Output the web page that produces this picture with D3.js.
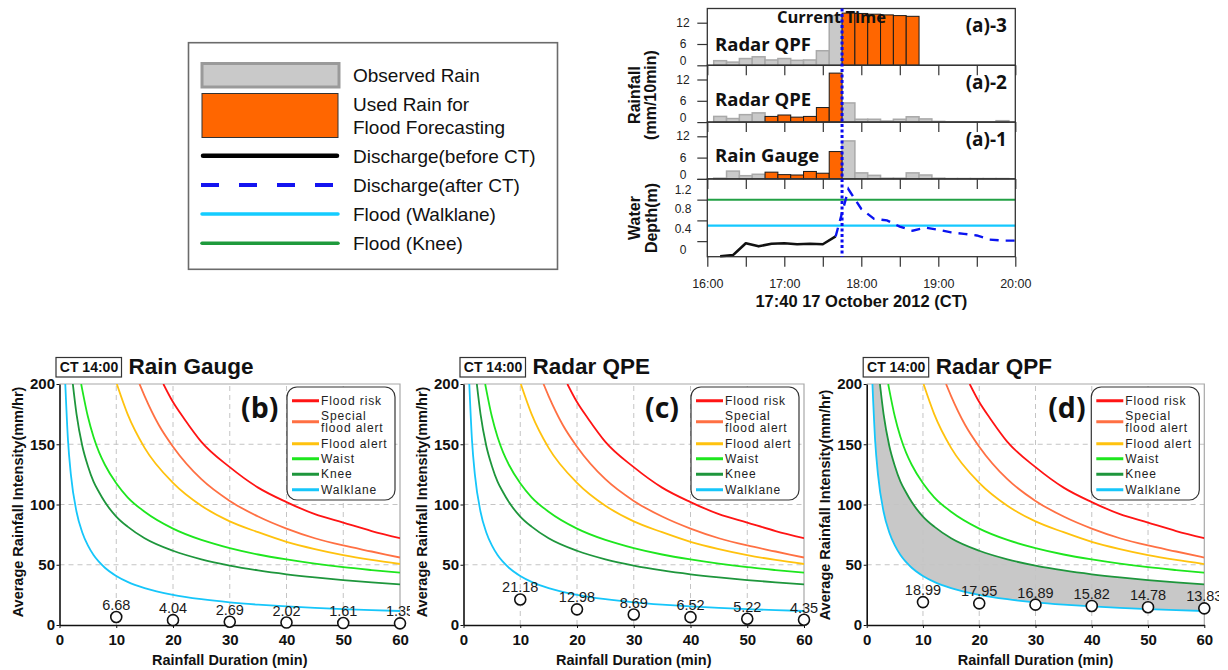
<!DOCTYPE html>
<html>
<head>
<meta charset="utf-8">
<script src="https://cdn.jsdelivr.net/npm/d3@7/dist/d3.min.js"></script>
<style>
html,body{margin:0;padding:0;background:#fff;}
svg{display:block;}
</style>
</head>
<body>
<svg id="chart" width="1228" height="670"></svg>
<script>
// ================= DATA =================
// --- (a) hyetographs, 10-min bins (bin centre times) ---
const barTimes = ["16:10","16:20","16:30","16:40","16:50","17:00","17:10","17:20","17:30","17:40","17:50","18:00","18:10","18:20","18:30","18:40","18:50","19:00","19:10","19:20","19:30","19:40","19:50"];
const qpfObserved = [1.3,0.9,1.9,2.4,1.5,1.9,1.4,1.5,4.1,14.0,null,null,null,null,null,null,null,null,null,null,null,null,null];
const qpfUsed     = [null,null,null,null,null,null,null,null,null,null,14.7,14.6,14.4,14.2,14.0,13.8,null,null,null,null,null,null,null];
const qpeObserved = [1.6,1.0,2.1,2.6,1.6,2.0,1.4,1.6,4.1,13.8,5.4,0.8,0.8,0.3,0.8,1.5,0.9,0.2,0.1,0.1,0.1,0.1,0.4];
const qpeUsed     = [null,null,null,null,1.6,2.0,1.4,1.6,4.1,13.8,null,null,null,null,null,null,null,null,null,null,null,null,null];
const gaugeObserved = [0.2,2.2,0.9,1.3,1.9,1.2,1.1,2.1,1.6,7.7,10.7,1.7,1.0,0.2,0.2,1.7,1.1,0.2,0.1,0.1,0.1,0.1,0.1];
const gaugeUsed     = [null,null,null,null,1.9,1.2,1.1,2.1,1.6,7.7,null,null,null,null,null,null,null,null,null,null,null,null,null];
const rainTicks = [0,6,12];

// --- water depth ---
const depthBeforeTimes = ["16:10","16:20","16:30","16:40","16:50","17:00","17:10","17:20","17:30","17:40"];
const depthBefore = [-0.29,-0.27,-0.04,-0.10,-0.05,-0.04,-0.06,-0.05,-0.06,0.09];
const depthAfterTimes = ["17:40","17:50","18:00","18:10","18:20","18:30","18:40","18:50","19:00","19:10","19:20","19:30","19:40","19:50","20:00"];
const depthAfter = [0.09,1.0,0.62,0.43,0.40,0.28,0.20,0.26,0.22,0.17,0.14,0.11,0.03,0.01,0.01];
const depthTicks = [0,0.4,0.8,1.2];
const floodKneeDepth = 0.8;
const floodWalklaneDepth = 0.3;
const currentTime = "17:40";
const binMinutes = 10;
const timeLabels = ["16:00","17:00","18:00","19:00","20:00"];

// --- top-left legend ---
const legendLabels = ["Observed Rain","Used Rain for|Flood Forecasting","Discharge(before CT)","Discharge(after CT)","Flood (Walklane)","Flood (Knee)"];

// --- (b)(c)(d) rainfall intensity-duration ---
const durations = [10,20,30,40,50,60];
const gaugeIntensity = [6.68,4.04,2.69,2.02,1.61,1.35];
const qpeIntensity = [21.18,12.98,8.69,6.52,5.22,4.35];
const qpfIntensity = [18.99,17.95,16.89,15.82,14.78,13.83];
const durationTicks = [0,10,20,30,40,50,60];
const intensityTicks = [0,50,100,150,200];

const floodRiskCurve = [[18.3,200],[20,185],[22,171],[25,152],[30,131],[35,114],[40,102],[45,92],[50,85],[55,78],[60,72]];
const specialFloodAlertCurve = [[14.1,200],[15,190],[17.5,166],[20,148],[25,121],[30,103],[35,90],[40,80],[45,72],[50,66],[55,61],[60,56]];
const floodAlertCurve = [[10.1,200],[12,175],[15,147],[20,118],[25,99],[30,86],[35,77],[40,69],[45,63],[50,58],[55,54],[60,50.6]];
const waistCurve = [[3.82,200],[4,195.6],[5,173],[6,156],[7,143],[8,133],[10,117.6],[12,106],[15,94],[20,80],[25,70.6],[30,63.8],[35,58.5],[40,54.4],[45,50.9],[50,48],[55,45.6],[60,43.4]];
const kneeCurve = [[2.35,200],[3,175],[4,149],[5,132],[6,119],[7,110],[8,102],[10,90],[12,81.6],[15,72],[20,61.6],[25,54.5],[30,49.3],[35,45.3],[40,42.1],[45,39.5],[50,37.3],[55,35.4],[60,33.7]];
const walklaneCurve = [[1.02,200],[1.5,153],[2,125],[3,94],[4,77],[5,66],[6,58],[8,47.5],[10,40.7],[12,35.8],[15,30.6],[20,25],[25,21.4],[30,18.8],[35,16.9],[40,15.4],[45,14.2],[50,13.2],[55,12.3],[60,11.6]];
const thresholdLabels = ["Flood risk","Special|flood alert","Flood alert","Waist","Knee","Walklane"];

// ================= DRAWING =================
const svg = d3.select("#chart");
const ARIAL = "'Liberation Sans', Arial, sans-serif";
const OPEN = "'Open Sans', 'Liberation Sans', sans-serif";
const parseT = d3.timeParse("%H:%M");

// ---------- top-left legend ----------
(function(){
  const g = svg.append("g");
  g.append("rect").attr("x",188.5).attr("y",42.7).attr("width",369).attr("height",226.6)
    .attr("fill","#fff").attr("stroke","#6b6b6b").attr("stroke-width",1.6);
  g.append("rect").attr("x",202).attr("y",63.5).attr("width",137).attr("height",23.5)
    .attr("fill","#c9c9c9").attr("stroke","#9a9a9a").attr("stroke-width",3);
  g.append("rect").attr("x",202).attr("y",93.5).attr("width",136).attr("height",44)
    .attr("fill","#ff6600").attr("stroke","#333").attr("stroke-width",1);
  g.append("line").attr("x1",203).attr("x2",337).attr("y1",155.7).attr("y2",155.7)
    .attr("stroke","#000").attr("stroke-width",4.5).attr("stroke-linecap","round");
  g.append("line").attr("x1",201).attr("x2",339).attr("y1",185).attr("y2",185)
    .attr("stroke","#1414f0").attr("stroke-width",4).attr("stroke-dasharray","18,20");
  g.append("line").attr("x1",202).attr("x2",338).attr("y1",214).attr("y2",214)
    .attr("stroke","#14ccff").attr("stroke-width",3.5).attr("stroke-linecap","round");
  g.append("line").attr("x1",202).attr("x2",338).attr("y1",243.3).attr("y2",243.3)
    .attr("stroke","#1e9a3c").attr("stroke-width",3.5).attr("stroke-linecap","round");
  const baselines = [[81.5],[111,134],[162.5],[191.8],[220.8],[250]];
  legendLabels.forEach((lab,i)=>{
    lab.split("|").forEach((line,k)=>{
      g.append("text").attr("x",353).attr("y",baselines[i][k]).text(line)
        .attr("font-family",ARIAL).attr("font-size",19).attr("fill","#111");
    });
  });
})();

// ---------- (a) panels ----------
const tx = d3.scaleTime().domain([parseT("16:00"), parseT("20:00")]).range([707.3, 1015.3]);
const halfBin = binMinutes/2;
const panelH = 56.8;
const rainPanels = [
  {name:"Radar QPF", tag:"(a)-3", obs:qpfObserved, used:qpfUsed, top:8.5, nameY:50.7, tagY:32.3, topTicks:false},
  {name:"Radar QPE", tag:"(a)-2", obs:qpeObserved, used:qpeUsed, top:65.3, nameY:106, tagY:88.7, topTicks:true},
  {name:"Rain Gauge", tag:"(a)-1", obs:gaugeObserved, used:gaugeUsed, top:122.1, nameY:161.7, tagY:146, topTicks:true}
];
const xLeft = tx.range()[0], xRight = tx.range()[1];
const tickEvery30 = d3.timeMinute.every(30);

rainPanels.forEach(p=>{
  const y = d3.scaleLinear().domain([0,16]).range([p.top+panelH, p.top]);
  const g = svg.append("g");
  const rows = barTimes.map((t,j)=>({t:parseT(t), obs:p.obs[j], used:p.used[j]}));
  const bx = d=>tx(d3.timeMinute.offset(d.t,-halfBin));
  const bw = d=>tx(d3.timeMinute.offset(d.t,halfBin)) - tx(d3.timeMinute.offset(d.t,-halfBin));
  g.selectAll("rect.obs").data(rows.filter(d=>d.obs!=null && d.used==null)).join("rect")
    .attr("class","obs").attr("x",bx).attr("width",bw)
    .attr("y",d=>y(d.obs)).attr("height",d=>y(0)-y(d.obs))
    .attr("fill","#c9c9c9").attr("stroke","#a9a9a9").attr("stroke-width",1.5);
  g.selectAll("rect.used").data(rows.filter(d=>d.used!=null)).join("rect")
    .attr("class","used").attr("x",bx).attr("width",bw)
    .attr("y",d=>y(d.used)).attr("height",d=>y(0)-y(d.used))
    .attr("fill","#ff6600").attr("stroke","#1a1a1a").attr("stroke-width",1);
  // frame
  g.append("rect").attr("x",xLeft).attr("y",p.top).attr("width",xRight-xLeft).attr("height",panelH)
    .attr("fill","none").attr("stroke","#333").attr("stroke-width",1.3);
  // y axis
  const ya = g.append("g").attr("transform",`translate(${xLeft},0)`)
    .call(d3.axisLeft(y).tickValues(rainTicks).tickSize(10).tickFormat(d3.format("d")));
  ya.select(".domain").remove();
  ya.selectAll("line").attr("stroke","#333").attr("stroke-width",1.2);
  ya.selectAll("text").attr("x",-24.3).attr("dy",d=> d===0 ? "-0.05em" : "0.3em").attr("text-anchor","middle")
    .attr("font-family",ARIAL).attr("font-size",12).attr("fill","#222");
  if(p.topTicks){
    const xa = g.append("g").attr("transform",`translate(0,${p.top})`)
      .call(d3.axisBottom(tx).ticks(tickEvery30).tickSize(10).tickFormat(""));
    xa.select(".domain").remove();
    xa.selectAll("line").attr("stroke","#333").attr("stroke-width",1.2);
  }
  g.append("text").attr("x",715).attr("y",p.nameY).text(p.name)
    .attr("font-family",OPEN).attr("font-weight",700).attr("font-size",18.5).attr("fill","#111");
  g.append("text").attr("x",1007).attr("y",p.tagY).text(p.tag).attr("text-anchor","end")
    .attr("font-family",OPEN).attr("font-weight",700).attr("font-size",19).attr("fill","#111");
});

// depth panel
const dTop = 8.5 + 3*panelH, dBottom = 256.7;
const yd = d3.scaleLinear().domain([-0.3,1.2]).range([dBottom, dTop]);
(function(){
  const g = svg.append("g");
  g.append("line").attr("x1",xLeft).attr("x2",xRight).attr("y1",yd(floodKneeDepth)).attr("y2",yd(floodKneeDepth))
    .attr("stroke","#22a045").attr("stroke-width",2);
  g.append("line").attr("x1",xLeft).attr("x2",xRight).attr("y1",yd(floodWalklaneDepth)).attr("y2",yd(floodWalklaneDepth))
    .attr("stroke","#14c8ff").attr("stroke-width",2.2);
  const line = d3.line().x(d=>tx(d.t)).y(d=>yd(d.v));
  g.append("path").datum(depthBeforeTimes.map((t,i)=>({t:parseT(t), v:depthBefore[i]})))
    .attr("d",line).attr("fill","none").attr("stroke","#111").attr("stroke-width",2.6).attr("stroke-linejoin","round");
  g.append("path").datum(depthAfterTimes.map((t,i)=>({t:parseT(t), v:depthAfter[i]})))
    .attr("d",line).attr("fill","none").attr("stroke","#0a14f0").attr("stroke-width",2.4).attr("stroke-dasharray","9,7");
  g.append("rect").attr("x",xLeft).attr("y",dTop).attr("width",xRight-xLeft).attr("height",dBottom-dTop)
    .attr("fill","none").attr("stroke","#333").attr("stroke-width",1.3);
  const ya = g.append("g").attr("transform",`translate(${xLeft},0)`)
    .call(d3.axisLeft(yd).tickValues(depthTicks).tickSize(10).tickFormat(d=>d===0?"0":d3.format(".1f")(d)));
  ya.select(".domain").remove();
  ya.selectAll("line").attr("stroke","#333").attr("stroke-width",1.2);
  ya.selectAll("text").attr("x",-24.3).attr("dy",d=> d===1.2 ? "1.2em" : "1.05em").attr("text-anchor","middle")
    .attr("font-family",ARIAL).attr("font-size",12).attr("fill","#222");
  const xt = g.append("g").attr("transform",`translate(0,${dTop})`)
    .call(d3.axisBottom(tx).ticks(tickEvery30).tickSize(10).tickFormat(""));
  xt.select(".domain").remove();
  xt.selectAll("line").attr("stroke","#333").attr("stroke-width",1.2);
  const fmt = d3.timeFormat("%H:%M");
  const xb = g.append("g").attr("transform",`translate(0,${dBottom})`)
    .call(d3.axisBottom(tx).ticks(tickEvery30).tickSize(10)
      .tickFormat(d=> timeLabels.includes(fmt(d)) ? fmt(d) : ""));
  xb.select(".domain").remove();
  xb.selectAll("line").attr("stroke","#333").attr("stroke-width",1.2);
  xb.selectAll("text").attr("y",22).attr("font-family",ARIAL).attr("font-size",12.5).attr("fill","#222");
  svg.append("text").attr("x",(xLeft+xRight)/2).attr("y",306.5).attr("text-anchor","middle")
    .text("17:40 17 October 2012 (CT)")
    .attr("font-family",ARIAL).attr("font-weight",700).attr("font-size",16.5).attr("fill","#111");
  // y titles
  svg.append("text").attr("transform","translate(640,95) rotate(-90)").attr("text-anchor","middle")
    .attr("font-family",ARIAL).attr("font-weight",700).attr("font-size",16).attr("fill","#111").text("Rainfall");
  svg.append("text").attr("transform","translate(656,95) rotate(-90)").attr("text-anchor","middle")
    .attr("font-family",ARIAL).attr("font-weight",700).attr("font-size",16).attr("fill","#111").text("(mm/10min)");
  svg.append("text").attr("transform","translate(640,218) rotate(-90)").attr("text-anchor","middle")
    .attr("font-family",ARIAL).attr("font-weight",700).attr("font-size",16).attr("fill","#111").text("Water");
  svg.append("text").attr("transform","translate(657,218) rotate(-90)").attr("text-anchor","middle")
    .attr("font-family",ARIAL).attr("font-weight",700).attr("font-size",16).attr("fill","#111").text("Depth(m)");
  // current time line
  const ctX = tx(d3.timeMinute.offset(parseT(currentTime), halfBin));
  svg.append("line").attr("x1",ctX).attr("x2",ctX).attr("y1",8.5).attr("y2",dBottom)
    .attr("stroke","#0a0af0").attr("stroke-width",3).attr("stroke-dasharray","3,2.5");
  svg.append("text").attr("x",777).attr("y",23).text("Current Time")
    .attr("font-family",OPEN).attr("font-weight",700).attr("font-size",16.5).attr("fill","#111");
})();

// ---------- (b)(c)(d) ----------
const curves = [
  {pts:floodRiskCurve, color:"#ff1414"},
  {pts:specialFloodAlertCurve, color:"#ff7043"},
  {pts:floodAlertCurve, color:"#ffc20e"},
  {pts:waistCurve, color:"#1ee61e"},
  {pts:kneeCurve, color:"#1e963c"},
  {pts:walklaneCurve, color:"#16c6fa"}
];
const bottomPanels = [
  {x0:59.5, x1:400, tag:"(b)", title:"Rain Gauge", values:gaugeIntensity, shade:false, clipR:410, yTitle:502},
  {x0:463.5, x1:804, tag:"(c)", title:"Radar QPE", values:qpeIntensity, shade:false, clipR:818, yTitle:502},
  {x0:866.7, x1:1204.3, tag:"(d)", title:"Radar QPF", values:qpfIntensity, shade:true, clipR:1219, yTitle:505}
];
const yTopB = 384, yBotB = 625;

bottomPanels.forEach((p,pi)=>{
  const x = d3.scaleLinear().domain([0,60]).range([p.x0,p.x1]);
  const y = d3.scaleLinear().domain([0,200]).range([yBotB,yTopB]);
  const defs = svg.append("defs");
  defs.append("clipPath").attr("id","panel"+pi).append("rect")
    .attr("x",p.x0-60).attr("y",340).attr("width",p.clipR-(p.x0-60)).attr("height",330);
  defs.append("clipPath").attr("id","plot"+pi).append("rect")
    .attr("x",p.x0).attr("y",yTopB).attr("width",p.x1-p.x0).attr("height",yBotB-yTopB);
  const g = svg.append("g").attr("clip-path",`url(#panel${pi})`);

  if(p.shade){
    defs.append("clipPath").attr("id","belowKnee"+pi).append("path")
      .attr("d", d3.area().x(d=>x(d[0])).y0(y(0)).y1(d=>y(d[1])).curve(d3.curveMonotoneX)([[0,200]].concat(kneeCurve)));
    g.append("path").attr("clip-path",`url(#belowKnee${pi})`)
      .attr("d", d3.area().x(d=>x(d[0])).y0(d=>y(d[1])).y1(y(200)).curve(d3.curveMonotoneX)(walklaneCurve))
      .attr("fill","#c8c8c8");
  }
  // grid
  g.selectAll("line.gx").data(durationTicks.filter(d=>d>0 && d<60)).join("line")
    .attr("x1",d=>x(d)).attr("x2",d=>x(d)).attr("y1",yBotB).attr("y2",yTopB)
    .attr("stroke","#c4c4c4").attr("stroke-width",1).attr("stroke-dasharray","5,4");
  g.selectAll("line.gy").data(intensityTicks.filter(d=>d>0 && d<200)).join("line")
    .attr("x1",p.x0).attr("x2",p.x1).attr("y1",d=>y(d)).attr("y2",d=>y(d))
    .attr("stroke","#c4c4c4").attr("stroke-width",1).attr("stroke-dasharray","5,4");
  // top/right border
  g.append("path").attr("d",`M${p.x0},${yTopB}H${p.x1}V${yBotB}`).attr("fill","none")
    .attr("stroke","#a8a8a8").attr("stroke-width",1.2);
  // curves
  const line = d3.line().x(d=>x(d[0])).y(d=>y(d[1])).curve(d3.curveMonotoneX);
  const cg = g.append("g").attr("clip-path",`url(#plot${pi})`);
  curves.forEach(c=>{
    cg.append("path").attr("d",line(c.pts)).attr("fill","none").attr("stroke",c.color).attr("stroke-width",1.8);
  });
  // axes
  const ya = g.append("g").attr("transform",`translate(${p.x0},0)`)
    .call(d3.axisLeft(y).tickValues(intensityTicks).tickSizeInner(3).tickSizeOuter(0).tickPadding(1.5));
  ya.select(".domain").attr("stroke","#111").attr("stroke-width",1.6);
  ya.selectAll("line").attr("stroke","#111");
  ya.selectAll("text").attr("font-family",ARIAL).attr("font-weight",700).attr("font-size",15).attr("fill","#111");
  const xa = g.append("g").attr("transform",`translate(0,${yBotB})`)
    .call(d3.axisBottom(x).tickValues(durationTicks).tickSizeInner(3).tickSizeOuter(0).tickPadding(6.5));
  xa.select(".domain").attr("stroke","#111").attr("stroke-width",1.6);
  xa.selectAll("line").attr("stroke","#111");
  xa.selectAll("text").attr("font-family",ARIAL).attr("font-weight",700).attr("font-size",15).attr("fill","#111");
  // observed points
  const pts = durations.map((d,i)=>({d, v:p.values[i]}));
  g.selectAll("circle.pt").data(pts).join("circle")
    .attr("cx",d=>x(d.d)).attr("cy",d=>y(d.v)).attr("r",5.5)
    .attr("fill","#fff").attr("stroke","#111").attr("stroke-width",1.6);
  g.selectAll("text.pl").data(pts).join("text")
    .attr("x",d=>x(d.d)).attr("y",d=>y(d.v)-7).attr("text-anchor","middle")
    .text(d=>d3.format(".2f")(d.v))
    .attr("font-family",ARIAL).attr("font-size",14.5).attr("fill","#1a1a1a");
  // axis titles
  g.append("text").attr("x",(p.x0+p.x1)/2).attr("y",665).attr("text-anchor","middle")
    .text("Rainfall Duration (min)")
    .attr("font-family",ARIAL).attr("font-weight",700).attr("font-size",14.5).attr("fill","#111");
  g.append("text").attr("transform",`translate(${p.x0-37},${p.yTitle}) rotate(-90)`).attr("text-anchor","middle")
    .text("Average Rainfall Intensity(mm/hr)")
    .attr("font-family",ARIAL).attr("font-weight",700).attr("font-size",14.5).attr("fill","#111");
  // title box
  g.append("rect").attr("x",p.x0-3.5).attr("y",357.5).attr("width",65.5).attr("height",19.5)
    .attr("fill","#fff").attr("stroke","#333").attr("stroke-width",1.2);
  g.append("text").attr("x",p.x0+29.5).attr("y",372).attr("text-anchor","middle").text("CT 14:00")
    .attr("font-family",ARIAL).attr("font-weight",700).attr("font-size",14).attr("fill","#111");
  g.append("text").attr("x",p.x0+69).attr("y",373.5).text(p.title)
    .attr("font-family",ARIAL).attr("font-weight",700).attr("font-size",22.5).attr("fill","#111");
  // tag
  g.append("text").attr("x",p.x0+181.5).attr("y",418).text(p.tag)
    .attr("font-family",OPEN).attr("font-weight",700).attr("font-size",28.5).attr("fill","#111");
  // legend
  const lx = p.x1-113, ly = 387;
  const lg = g.append("g");
  lg.append("rect").attr("x",lx).attr("y",ly).attr("width",108).attr("height",113).attr("rx",10)
    .attr("fill","#fff").attr("stroke","#333").attr("stroke-width",1.2);
  const itemY = [400.7, 421.7, 443.7, 458.7, 474.3, 489.7];
  thresholdLabels.forEach((lab,i)=>{
    lg.append("line").attr("x1",lx+5).attr("x2",lx+32).attr("y1",itemY[i]).attr("y2",itemY[i])
      .attr("stroke",curves[i].color).attr("stroke-width",3);
    const parts = lab.split("|");
    parts.forEach((s,k)=>{
      const cy = parts.length===1 ? itemY[i] : (k===0 ? 416 : 427.7);
      lg.append("text").attr("x",lx+34).attr("y",cy+4).text(s)
        .attr("font-family",ARIAL).attr("font-size",12).attr("letter-spacing",0.9).attr("fill","#222");
    });
  });
});
</script>
</body>
</html>
